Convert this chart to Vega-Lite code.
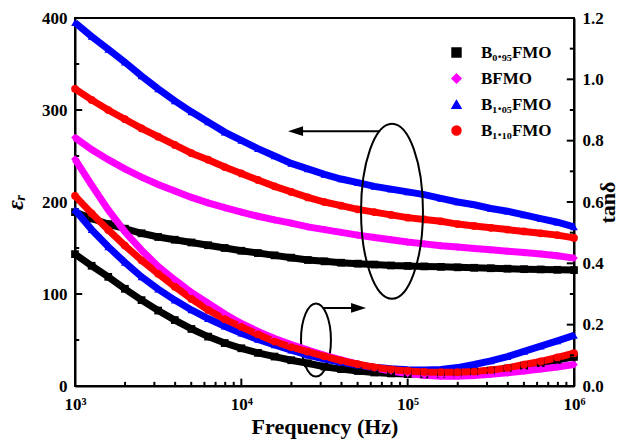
{
  "$schema": "https://vega.github.io/schema/vega-lite/v6.json",
  "width": 499,
  "height": 368,
  "autosize": {"type": "none"},
  "padding": {"left": 75, "top": 18, "right": 56, "bottom": 60},
  "background": "white",
  "config": {
    "view": {"stroke": "black", "strokeWidth": 2},
    "axis": {
      "grid": false,
      "domain": true,
      "domainColor": "black",
      "domainWidth": 2,
      "ticks": false,
      "labelFont": "Liberation Serif",
      "labelFontWeight": "bold",
      "labelFontSize": 17,
      "labelColor": "black",
      "titleFont": "Liberation Serif",
      "titleFontWeight": "bold",
      "titleColor": "black"
    },
    "legend": {
      "orient": "none",
      "legendX": 373,
      "legendY": 26,
      "title": null,
      "labelFont": "Liberation Serif",
      "labelFontWeight": "bold",
      "labelFontSize": 17,
      "labelColor": "black",
      "symbolSize": 80,
      "rowPadding": 8,
      "labelOffset": 16,
      "padding": 0
    }
  },
  "datasets": {
    "eps": [
      {"f": 1000, "s1": 189, "s2": 270, "s3": 395, "s4": 323},
      {"f": 1259, "s1": 182, "s2": 257, "s3": 380, "s4": 311},
      {"f": 1585, "s1": 176, "s2": 246, "s3": 366, "s4": 300},
      {"f": 1995, "s1": 171, "s2": 236, "s3": 352, "s4": 290},
      {"f": 2512, "s1": 166, "s2": 227, "s3": 337, "s4": 280},
      {"f": 3162, "s1": 162, "s2": 219, "s3": 323, "s4": 271},
      {"f": 3981, "s1": 159, "s2": 212, "s3": 310, "s4": 262},
      {"f": 5012, "s1": 156, "s2": 205, "s3": 298, "s4": 253},
      {"f": 6310, "s1": 153, "s2": 199, "s3": 287, "s4": 246},
      {"f": 7943, "s1": 150, "s2": 194, "s3": 276, "s4": 238},
      {"f": 10000, "s1": 147, "s2": 189, "s3": 267, "s4": 231},
      {"f": 12589, "s1": 144.5, "s2": 184.5, "s3": 258, "s4": 224},
      {"f": 15849, "s1": 142, "s2": 180.5, "s3": 250, "s4": 217},
      {"f": 19953, "s1": 139.5, "s2": 177, "s3": 242, "s4": 211},
      {"f": 25119, "s1": 137, "s2": 173, "s3": 236, "s4": 205},
      {"f": 31623, "s1": 135.5, "s2": 170, "s3": 230, "s4": 200},
      {"f": 39811, "s1": 134, "s2": 167, "s3": 225, "s4": 196},
      {"f": 50119, "s1": 133, "s2": 164, "s3": 221, "s4": 192},
      {"f": 63096, "s1": 132, "s2": 161.5, "s3": 217, "s4": 189},
      {"f": 79433, "s1": 131, "s2": 159, "s3": 214, "s4": 186},
      {"f": 100000, "s1": 130.5, "s2": 156.5, "s3": 211, "s4": 183},
      {"f": 125893, "s1": 130, "s2": 154.5, "s3": 208, "s4": 181},
      {"f": 158489, "s1": 129.5, "s2": 152.5, "s3": 204, "s4": 179},
      {"f": 199526, "s1": 129, "s2": 151, "s3": 200, "s4": 176},
      {"f": 251189, "s1": 128.5, "s2": 149.5, "s3": 197, "s4": 174},
      {"f": 316228, "s1": 128, "s2": 148, "s3": 193, "s4": 172},
      {"f": 398107, "s1": 127.5, "s2": 146.5, "s3": 190, "s4": 170},
      {"f": 501187, "s1": 127, "s2": 145, "s3": 186, "s4": 168},
      {"f": 630957, "s1": 126.7, "s2": 143.5, "s3": 182, "s4": 166},
      {"f": 794328, "s1": 126.3, "s2": 141.5, "s3": 178, "s4": 164},
      {"f": 1000000, "s1": 126, "s2": 139, "s3": 173, "s4": 161}
    ],
    "tan": [
      {"f": 1000, "s1": 0.43, "s2": 0.74, "s3": 0.574, "s4": 0.62},
      {"f": 1259, "s1": 0.392, "s2": 0.655, "s3": 0.51, "s4": 0.563},
      {"f": 1585, "s1": 0.356, "s2": 0.574, "s3": 0.454, "s4": 0.509},
      {"f": 1995, "s1": 0.317, "s2": 0.503, "s3": 0.403, "s4": 0.458},
      {"f": 2512, "s1": 0.28, "s2": 0.443, "s3": 0.356, "s4": 0.41},
      {"f": 3162, "s1": 0.246, "s2": 0.39, "s3": 0.316, "s4": 0.366},
      {"f": 3981, "s1": 0.215, "s2": 0.346, "s3": 0.28, "s4": 0.324},
      {"f": 5012, "s1": 0.186, "s2": 0.305, "s3": 0.248, "s4": 0.284},
      {"f": 6310, "s1": 0.161, "s2": 0.27, "s3": 0.22, "s4": 0.248},
      {"f": 7943, "s1": 0.14, "s2": 0.235, "s3": 0.195, "s4": 0.218},
      {"f": 10000, "s1": 0.123, "s2": 0.204, "s3": 0.172, "s4": 0.193},
      {"f": 12589, "s1": 0.108, "s2": 0.178, "s3": 0.152, "s4": 0.168},
      {"f": 15849, "s1": 0.096, "s2": 0.155, "s3": 0.134, "s4": 0.145},
      {"f": 19953, "s1": 0.084, "s2": 0.135, "s3": 0.117, "s4": 0.127},
      {"f": 25119, "s1": 0.074, "s2": 0.117, "s3": 0.101, "s4": 0.112},
      {"f": 31623, "s1": 0.063, "s2": 0.1, "s3": 0.088, "s4": 0.097},
      {"f": 39811, "s1": 0.055, "s2": 0.085, "s3": 0.077, "s4": 0.083},
      {"f": 50119, "s1": 0.049, "s2": 0.071, "s3": 0.068, "s4": 0.071},
      {"f": 63096, "s1": 0.044, "s2": 0.059, "s3": 0.061, "s4": 0.061},
      {"f": 79433, "s1": 0.041, "s2": 0.049, "s3": 0.056, "s4": 0.054},
      {"f": 100000, "s1": 0.039, "s2": 0.041, "s3": 0.053, "s4": 0.049},
      {"f": 125893, "s1": 0.038, "s2": 0.035, "s3": 0.052, "s4": 0.046},
      {"f": 158489, "s1": 0.039, "s2": 0.032, "s3": 0.054, "s4": 0.045},
      {"f": 199526, "s1": 0.041, "s2": 0.032, "s3": 0.06, "s4": 0.045},
      {"f": 251189, "s1": 0.045, "s2": 0.034, "s3": 0.07, "s4": 0.047},
      {"f": 316228, "s1": 0.05, "s2": 0.038, "s3": 0.082, "s4": 0.052},
      {"f": 398107, "s1": 0.057, "s2": 0.043, "s3": 0.096, "s4": 0.059},
      {"f": 501187, "s1": 0.066, "s2": 0.049, "s3": 0.113, "s4": 0.07},
      {"f": 630957, "s1": 0.075, "s2": 0.055, "s3": 0.13, "s4": 0.08},
      {"f": 794328, "s1": 0.085, "s2": 0.062, "s3": 0.147, "s4": 0.093},
      {"f": 1000000, "s1": 0.095, "s2": 0.07, "s3": 0.165, "s4": 0.107}
    ]
  },
  "encoding": {
    "x": {
      "field": "f",
      "type": "quantitative",
      "scale": {"type": "log", "domain": [1000, 1000000], "nice": false},
      "axis": {
        "title": "Frequency (Hz)",
        "titleFontSize": 22,
        "titlePadding": 4,
        "values": [1000, 10000, 100000, 1000000],
        "labelExpr": "datum.value == 1000 ? '10³' : datum.value == 10000 ? '10⁴' : datum.value == 100000 ? '10⁵' : '10⁶'",
        "labelPadding": 10,
        "labelFlush": false,
        "labelOverlap": false
      }
    }
  },
  "layer": [
    {
      "encoding": {
        "y": {
          "field": "value",
          "type": "quantitative",
          "scale": {"domain": [0, 400], "nice": false},
          "axis": {
            "orient": "left",
            "title": "εᵣ",
            "titleFontStyle": "italic",
            "titleFontSize": 24,
            "titlePadding": 14,
            "values": [0, 100, 200, 300, 400],
            "labelPadding": 8,
            "labelFlush": false,
            "labelOverlap": false
          }
        }
      },
      "layer": [
        {
          "data": {"name": "eps"},
          "transform": [{"fold": ["s1", "s2", "s3", "s4"], "as": ["series", "value"]}],
          "layer": [
            {
              "mark": {"type": "line", "strokeWidth": 7},
              "encoding": {
                "color": {"field": "series", "type": "nominal", "scale": {"domain": ["s1", "s2", "s3", "s4"], "range": ["#000000", "#ff00ff", "#0000ff", "#ff0000"]}, "legend": {"labelExpr": "{'s1': 'B₀.₉₅FMO', 's2': 'BFMO', 's3': 'B₁.₀₅FMO', 's4': 'B₁.₁₀FMO'}[datum.label]"}},
                "detail": {"field": "series"}
              }
            },
            {
              "mark": {"type": "point", "filled": true, "size": 60, "opacity": 1},
              "encoding": {
                "color": {"field": "series", "type": "nominal", "scale": {"domain": ["s1", "s2", "s3", "s4"], "range": ["#000000", "#ff00ff", "#0000ff", "#ff0000"]}, "legend": {"labelExpr": "{'s1': 'B₀.₉₅FMO', 's2': 'BFMO', 's3': 'B₁.₀₅FMO', 's4': 'B₁.₁₀FMO'}[datum.label]"}},
                "shape": {"field": "series", "type": "nominal", "scale": {"domain": ["s1", "s2", "s3", "s4"], "range": ["square", "diamond", "triangle-up", "circle"]}, "legend": {"labelExpr": "{'s1': 'B₀.₉₅FMO', 's2': 'BFMO', 's3': 'B₁.₀₅FMO', 's4': 'B₁.₁₀FMO'}[datum.label]"}}
              }
            }
          ]
        },
        {
          "data": {"values": [{"f": 1000, "f2": 1105, "value": 100}, {"f": 1000, "f2": 1105, "value": 200}, {"f": 1000, "f2": 1105, "value": 300}, {"f": 1000, "f2": 1060, "value": 50}, {"f": 1000, "f2": 1060, "value": 150}, {"f": 1000, "f2": 1060, "value": 250}, {"f": 1000, "f2": 1060, "value": 350}]},
          "mark": {"type": "rule", "color": "black", "strokeWidth": 2},
          "encoding": {"x2": {"field": "f2"}}
        },
        {
          "data": {"values": [{"f": 10000, "value": 0, "value2": 8}, {"f": 100000, "value": 0, "value2": 8}, {"f": 2000, "value": 0, "value2": 4.5}, {"f": 3000, "value": 0, "value2": 4.5}, {"f": 4000, "value": 0, "value2": 4.5}, {"f": 5000, "value": 0, "value2": 4.5}, {"f": 6000, "value": 0, "value2": 4.5}, {"f": 7000, "value": 0, "value2": 4.5}, {"f": 8000, "value": 0, "value2": 4.5}, {"f": 9000, "value": 0, "value2": 4.5}, {"f": 20000, "value": 0, "value2": 4.5}, {"f": 30000, "value": 0, "value2": 4.5}, {"f": 40000, "value": 0, "value2": 4.5}, {"f": 50000, "value": 0, "value2": 4.5}, {"f": 60000, "value": 0, "value2": 4.5}, {"f": 70000, "value": 0, "value2": 4.5}, {"f": 80000, "value": 0, "value2": 4.5}, {"f": 90000, "value": 0, "value2": 4.5}, {"f": 200000, "value": 0, "value2": 4.5}, {"f": 300000, "value": 0, "value2": 4.5}, {"f": 400000, "value": 0, "value2": 4.5}, {"f": 500000, "value": 0, "value2": 4.5}, {"f": 600000, "value": 0, "value2": 4.5}, {"f": 700000, "value": 0, "value2": 4.5}, {"f": 800000, "value": 0, "value2": 4.5}, {"f": 900000, "value": 0, "value2": 4.5}]},
          "mark": {"type": "rule", "color": "black", "strokeWidth": 2},
          "encoding": {"y2": {"field": "value2"}}
        },
        {
          "data": {"values": [{"f": 80500, "value": 190}]},
          "mark": {"type": "point", "shape": "M0,-1A0.354,1,0,1,1,0,1A0.354,1,0,1,1,0,-1Z", "size": 30625, "filled": false, "stroke": "black", "strokeWidth": 2, "opacity": 1}
        },
        {
          "data": {"values": [{"f": 28100, "value": 50}]},
          "mark": {"type": "point", "shape": "M0,-1A0.41,1,0,1,1,0,1A0.41,1,0,1,1,0,-1Z", "size": 5329, "filled": false, "stroke": "black", "strokeWidth": 2, "opacity": 1}
        },
        {
          "data": {"values": [{"f": 68200, "f2": 20500, "value": 277}, {"f": 31000, "f2": 52000, "value": 84.8}]},
          "mark": {"type": "rule", "color": "black", "strokeWidth": 2},
          "encoding": {"x2": {"field": "f2"}}
        },
        {
          "data": {"values": [{"f": 19100, "value": 277}]},
          "mark": {"type": "point", "shape": "M0,0L2,-0.65L2,0.65Z", "size": 225, "filled": true, "color": "black", "opacity": 1}
        },
        {
          "data": {"values": [{"f": 56200, "value": 84.8}]},
          "mark": {"type": "point", "shape": "M0,0L-2,-0.65L-2,0.65Z", "size": 225, "filled": true, "color": "black", "opacity": 1}
        }
      ]
    },
    {
      "encoding": {
        "y": {
          "field": "value",
          "type": "quantitative",
          "scale": {"domain": [0, 1.2], "nice": false},
          "axis": {
            "orient": "right",
            "title": "tanδ",
            "titleFontSize": 22,
            "titleAngle": 270,
            "titlePadding": 16,
            "values": [0, 0.2, 0.4, 0.6, 0.8, 1.0, 1.2],
            "format": ".1f",
            "labelPadding": 8,
            "labelFlush": false,
            "labelOverlap": false
          }
        }
      },
      "layer": [
        {
          "data": {"name": "tan"},
          "transform": [{"fold": ["s1", "s2", "s3", "s4"], "as": ["series", "value"]}],
          "layer": [
            {
              "mark": {"type": "line", "strokeWidth": 7},
              "encoding": {
                "color": {"field": "series", "type": "nominal", "scale": {"domain": ["s1", "s2", "s3", "s4"], "range": ["#000000", "#ff00ff", "#0000ff", "#ff0000"]}, "legend": {"labelExpr": "{'s1': 'B₀.₉₅FMO', 's2': 'BFMO', 's3': 'B₁.₀₅FMO', 's4': 'B₁.₁₀FMO'}[datum.label]"}},
                "detail": {"field": "series"}
              }
            },
            {
              "mark": {"type": "point", "filled": true, "size": 60, "opacity": 1},
              "encoding": {
                "color": {"field": "series", "type": "nominal", "scale": {"domain": ["s1", "s2", "s3", "s4"], "range": ["#000000", "#ff00ff", "#0000ff", "#ff0000"]}, "legend": {"labelExpr": "{'s1': 'B₀.₉₅FMO', 's2': 'BFMO', 's3': 'B₁.₀₅FMO', 's4': 'B₁.₁₀FMO'}[datum.label]"}},
                "shape": {"field": "series", "type": "nominal", "scale": {"domain": ["s1", "s2", "s3", "s4"], "range": ["square", "diamond", "triangle-up", "circle"]}, "legend": {"labelExpr": "{'s1': 'B₀.₉₅FMO', 's2': 'BFMO', 's3': 'B₁.₀₅FMO', 's4': 'B₁.₁₀FMO'}[datum.label]"}}
              }
            }
          ]
        },
        {
          "data": {"values": [{"f": 1000000, "f2": 905000, "value": 0.2}, {"f": 1000000, "f2": 905000, "value": 0.4}, {"f": 1000000, "f2": 905000, "value": 0.6}, {"f": 1000000, "f2": 905000, "value": 0.8}, {"f": 1000000, "f2": 905000, "value": 1.0}, {"f": 1000000, "f2": 944000, "value": 0.1}, {"f": 1000000, "f2": 944000, "value": 0.3}, {"f": 1000000, "f2": 944000, "value": 0.5}, {"f": 1000000, "f2": 944000, "value": 0.7}, {"f": 1000000, "f2": 944000, "value": 0.9}, {"f": 1000000, "f2": 944000, "value": 1.1}]},
          "mark": {"type": "rule", "color": "black", "strokeWidth": 2},
          "encoding": {"x2": {"field": "f2"}}
        }
      ]
    }
  ],
  "resolve": {"scale": {"y": "independent"}}
}
